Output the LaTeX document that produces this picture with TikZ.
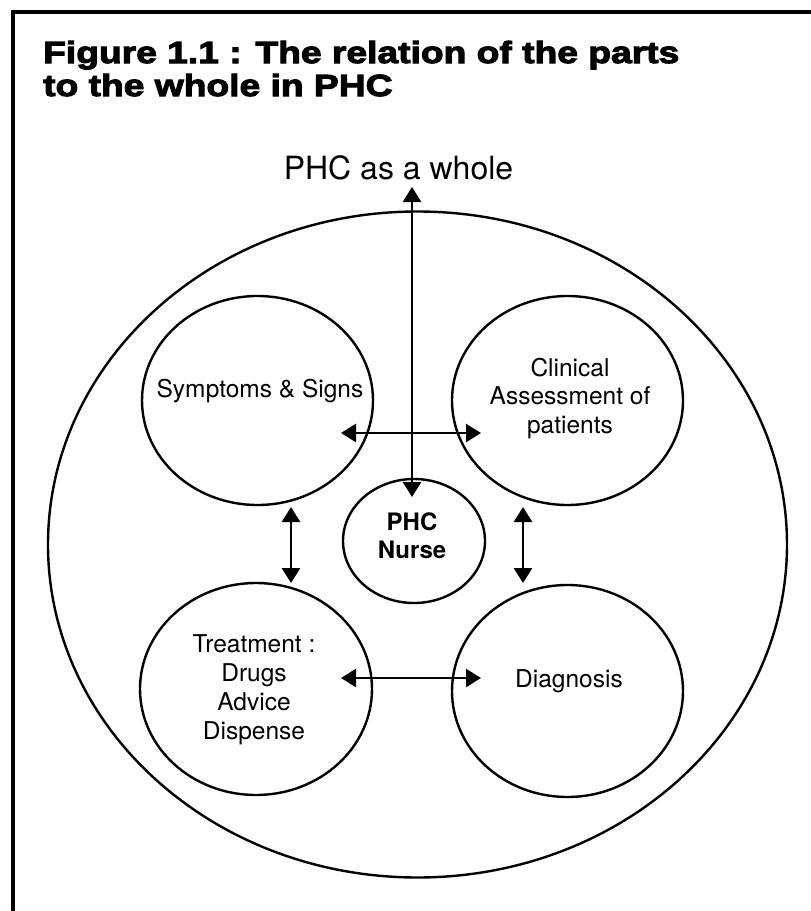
\documentclass[tikz,border=0pt]{standalone}
\usepackage{fontspec}
\setmainfont{TeX Gyre Heros}
\newfontfamily\titlefont{Liberation Sans}[BoldFeatures={FakeBold=3.5,FakeStretch=1.22}]
\usetikzlibrary{arrows.meta,shapes.geometric}
\begin{document}
\begin{tikzpicture}[x=1pt,y=-1pt,
  part/.style={draw, line width=2.4pt, ellipse, inner sep=0pt},
  lbl/.style={font=\fontsize{24.5}{28.5}\selectfont, align=center, inner sep=0pt, anchor=base},
  nurselbl/.style={font=\bfseries\fontsize{24}{28}\selectfont, align=center, inner sep=0pt, anchor=base},
  titlelbl/.style={font=\titlefont\bfseries\fontsize{30.5}{33}\selectfont, anchor=base west, inner sep=0pt},
  link/.style={line width=2.6pt, {Triangle[length=15pt,width=18pt]}-{Triangle[length=15pt,width=18pt]}},
  frame/.style={line width=4pt, line join=miter}
]
\fill[white] (0,0) rectangle (811,911);
\useasboundingbox (0,0) rectangle (811,911);
\draw[frame] (13,911) -- (13,12) -- (811,12);

\node[titlelbl] (t1) at (43,63) {Figure 1.1 : The relation of the parts};
\node[titlelbl] (t2) at (43,96) {to the whole in PHC};

\node[font=\fontsize{32}{36}\selectfont, anchor=base, inner sep=0pt] (wlabel) at (398.5,179) {PHC as a whole};

\node[part, minimum width=739pt, minimum height=666pt] (whole) at (417.5,544.5) {};
\node[part, minimum width=231pt, minimum height=209pt] (symp) at (257.5,400.5) {};
\node[part, minimum width=231pt, minimum height=209pt] (clin) at (567.5,400.5) {};
\node[part, minimum width=232pt, minimum height=212pt] (treat) at (256,689) {};
\node[part, minimum width=231pt, minimum height=212pt] (diag) at (567.5,691) {};
\node[part, minimum width=142pt, minimum height=124pt] (nurse) at (414,541) {};

\node[lbl] (tsymp) at (260,397) {Symptoms \& Signs};
\node[lbl] (tclin) at (570,433) {Clinical\\Assessment of\\patients};
\node[lbl, font=\fontsize{24.5}{29}\selectfont] (ttreat) at (254,739) {Treatment :\\Drugs\\Advice\\Dispense};
\node[lbl] (tdiag) at (569,687) {Diagnosis};
\node[nurselbl] (tnurse) at (412,558) {PHC\\Nurse};

\coordinate (a1) at (412,187);
\coordinate (a2) at (412,497);
\coordinate (h1l) at (341,433);
\coordinate (h1r) at (481,433);
\coordinate (h2l) at (341,678);
\coordinate (h2r) at (481,678);
\coordinate (v1t) at (291,507);
\coordinate (v1b) at (291,583);
\coordinate (v2t) at (523,507);
\coordinate (v2b) at (523,583);

\draw[link] (a1) -- (a2);
\draw[link] (h1l) -- (h1r);
\draw[link] (h2l) -- (h2r);
\draw[link] (v1t) -- (v1b);
\draw[link] (v2t) -- (v2b);
\end{tikzpicture}
\end{document}
